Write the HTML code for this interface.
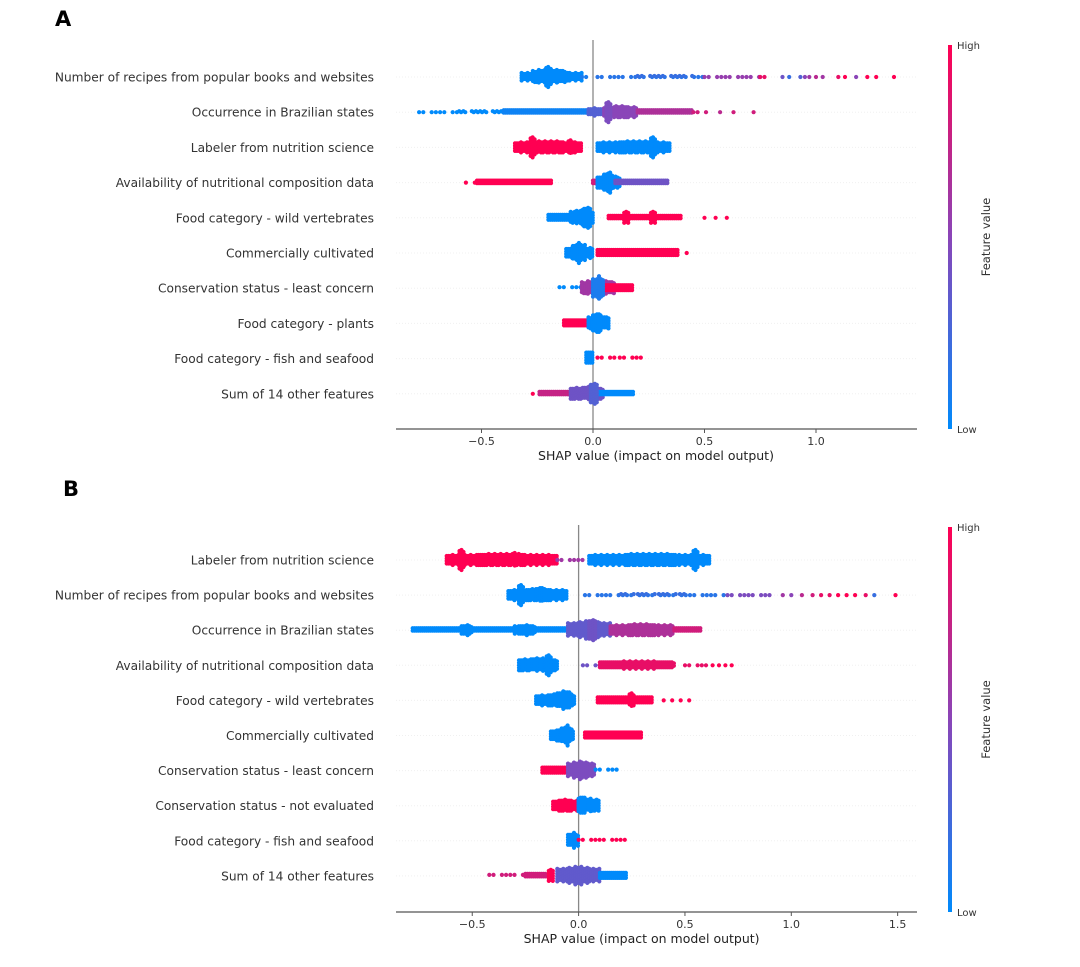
<!DOCTYPE html>
<html><head><meta charset="utf-8"><style>
body{margin:0;background:#fff;font-family:"Liberation Sans",sans-serif}
svg text{font-family:"DejaVu Sans","Liberation Sans",sans-serif}
</style></head><body>
<svg id="c" width="1080" height="962" viewBox="0 0 1080 962" xmlns="http://www.w3.org/2000/svg">
<defs>
<linearGradient id="cb" x1="0" y1="1" x2="0" y2="0">
<stop offset="0" stop-color="#008afb"/><stop offset="0.5" stop-color="#8a45b8"/><stop offset="1" stop-color="#ff0052"/>
</linearGradient>
</defs>
<text x="55" y="26" font-size="21" font-weight="bold" font-family="Liberation Sans">A</text>
<text x="63" y="496" font-size="21" font-weight="bold" font-family="Liberation Sans">B</text>
</svg>
<script>
// ---- data ----
const featuresA = ["Number of recipes from popular books and websites","Occurrence in Brazilian states","Labeler from nutrition science","Availability of nutritional composition data","Food category - wild vertebrates","Commercially cultivated","Conservation status - least concern","Food category - plants","Food category - fish and seafood","Sum of 14 other features"];
const featuresB = ["Labeler from nutrition science","Number of recipes from popular books and websites","Occurrence in Brazilian states","Availability of nutritional composition data","Food category - wild vertebrates","Commercially cultivated","Conservation status - least concern","Conservation status - not evaluated","Food category - fish and seafood","Sum of 14 other features"];
const ticksA = [-0.5,0.0,0.5,1.0];
const ticksB = [-0.5,0.0,0.5,1.0,1.5];
// segments: [shapStart, shapEnd, halfHeightPx, featureValue, sparse(1=dotted)]
const segsA = [
 [[-0.32,-0.05,5,0],[-0.27,-0.12,8,0],[-0.21,-0.19,12,0],[-0.05,0.0,0,0.1,1],[0.02,0.5,0,0.15,1],[0.2,0.45,1,0.2,1],[0.5,0.75,0,0.55,1],[0.75,0.8,0,0.9,1]],
 [[-0.78,-0.4,0,0,1],[-0.6,-0.4,1,0,1],[-0.4,-0.02,2,0.05],[-0.02,0.05,4,0.3],[0.05,0.2,6,0.5],[0.06,0.08,12,0.45],[0.2,0.45,2,0.65],[0.45,0.52,0,0.8,1]],
 [[-0.35,-0.05,6,1],[-0.28,-0.26,12,1],[-0.11,-0.09,8,1],[0.02,0.35,6,0],[0.26,0.28,12,0]],
 [[-0.52,-0.18,2,1],[0.0,0.03,2,0.8],[0.02,0.12,7,0],[0.05,0.09,11,0],[0.1,0.34,2,0.4]],
 [[-0.2,-0.1,3,0],[-0.1,0.0,8,0],[-0.04,-0.01,12,0],[0.07,0.4,2,1],[0.14,0.16,7,1],[0.26,0.28,7,1]],
 [[-0.12,0.0,6,0],[-0.09,-0.03,10,0],[0.02,0.38,3,1]],
 [[-0.15,-0.02,1,0,1],[-0.05,0.1,8,0.6],[0.05,0.18,3,1],[0.0,0.05,12,0.1]],
 [[-0.13,-0.02,3,1],[-0.02,0.07,8,0],[0.0,0.03,11,0]],
 [[-0.03,0.0,8,0],[0.02,0.1,1,1,1],[0.12,0.22,1,1,1]],
 [[-0.24,-0.05,2,0.75],[-0.1,0.05,7,0.4],[0.0,0.18,2,0],[-0.01,0.02,12,0.3]]
];
// sparse dots: [shap, featureValue]
const dotsA = [
 [[0.85,0.4],[0.88,0.2],[0.93,0.3],[0.95,0.5],[0.97,0.6],[1.0,0.7],[1.03,0.6],[1.1,0.9],[1.13,1],[1.18,0.5],[1.23,1],[1.27,1],[1.35,1]],
 [[0.57,0.7],[0.63,0.8],[0.72,0.8]],
 [],[[-0.57,1],[-0.53,1]],
 [[0.5,1],[0.55,1],[0.6,1]],
 [[0.42,1]],[],[],[],[[-0.27,1]]
];
const segsB = [
 [[-0.62,-0.1,6,1],[-0.56,-0.54,12,1],[-0.31,-0.29,8,1],[-0.1,0.05,0,0.6,1],[0.05,0.62,6,0],[0.54,0.56,12,0]],
 [[-0.33,-0.05,6,0],[-0.28,-0.26,12,0],[-0.2,-0.16,8,0],[0.03,0.7,0,0.15,1],[0.2,0.5,1,0.2,1],[0.7,0.9,0,0.45,1]],
 [[-0.78,-0.05,2,0],[-0.55,-0.5,5,0],[-0.3,-0.2,5,0],[-0.05,0.15,9,0.35],[0.05,0.08,12,0.4],[0.15,0.45,6,0.65],[0.45,0.58,2,0.8]],
 [[-0.28,-0.1,7,0],[-0.15,-0.13,12,0],[0.02,0.1,0,0.4,1],[0.1,0.45,4,0.9],[0.5,0.6,0,0.9,1]],
 [[-0.2,-0.02,6,0],[-0.1,-0.03,10,0],[0.09,0.35,3,1],[0.24,0.26,8,1]],
 [[-0.13,-0.02,6,0],[-0.08,-0.03,10,0],[0.03,0.3,3,1]],
 [[-0.17,-0.05,3,1],[-0.05,0.08,9,0.45],[0.08,0.18,1,0,1]],
 [[-0.12,0.0,6,1],[0.0,0.1,7,0],[0.0,0.03,10,0]],
 [[-0.05,0.0,8,0],[0.0,0.25,1,1,1]],
 [[-0.42,-0.15,1,0.8,1],[-0.25,-0.15,2,0.8],[-0.14,-0.12,7,1],[-0.1,0.1,9,0.35],[0.1,0.23,3,0]]
];
const dotsB = [
 [],
 [[0.96,0.6],[1.0,0.5],[1.05,0.7],[1.1,0.8],[1.14,0.9],[1.18,0.9],[1.22,1],[1.26,1],[1.3,1],[1.35,0.9],[1.39,0.2],[1.49,1]],
 [],
 [[0.63,1],[0.66,1],[0.69,1],[0.72,1]],
 [[0.4,1],[0.44,1],[0.48,1],[0.52,1]],
 [],[],[],[],[]
];
// ---- drawing ----
const svg=document.getElementById('c');
const NS='http://www.w3.org/2000/svg';
function col(v){const a=[0,138,251],m=[138,69,184],b=[255,0,82];let c;
 if(v<0.5){const t=v/0.5;c=a.map((x,i)=>Math.round(x+(m[i]-x)*t));}else{const t=(v-0.5)/0.5;c=m.map((x,i)=>Math.round(x+(b[i]-x)*t));}
 return 'rgb('+c.join(',')+')';}
function mk(tag,attrs){const e=document.createElementNS(NS,tag);for(const k in attrs)e.setAttribute(k,attrs[k]);return e;}
function panel(p){
 const sx=v=>p.zero+v*p.unit;
 const rowY=i=>p.top+i*p.step;
 const g=mk('g',{});
 
 
 svg.appendChild(g);
 p.features.forEach((f,i)=>{
  const y=rowY(i);
  const gl=mk('line',{x1:p.x0,x2:p.x1,y1:y,y2:y,stroke:'#f0f0f0','stroke-width':1,'stroke-dasharray':'1,2'});
  
  
  g.appendChild(gl);
 });
 const zl=mk('line',{x1:sx(0),x2:sx(0),y1:p.zTop,y2:p.axisY,stroke:'#888','stroke-width':1.3});
 
 
 g.appendChild(zl);
 p.features.forEach((f,i)=>{
  const y=rowY(i);
  const t=mk('text',{x:374,y:y+4.5,'text-anchor':'end','font-size':12.2,fill:'#333'});
  t.textContent=f;
  
  
  g.appendChild(t);
  const rg=mk('g',{});
  
  
  g.appendChild(rg);
  p.segs[i].forEach(s=>{
   const a=sx(s[0]),b=sx(s[1]);
   const sparse=s[4]===1;
   const stepX=sparse?4.2:2;
   let k=0;
   for(let x=a;x<=b+0.01;x+=stepX,k++){
    let h=s[2];
    if(!sparse&&h>3){const t=(x-a)/Math.max(1,b-a);const w=1-Math.abs(t-0.5)*1.2;h=Math.max(2,Math.round(h*(0.55+0.45*w)*(k%3===0?1:0.85)));}
    if(sparse&&k%5===2)continue;
    for(let dy=-h;dy<=h;dy+=2.5){
     const c=mk('circle',{cx:x.toFixed(1),cy:(y+dy).toFixed(1),r:2.1,fill:col(s[3])});
     
     
     rg.appendChild(c);
    }
   }
  });
  p.dots[i].forEach(d=>{
   const c=mk('circle',{cx:sx(d[0]).toFixed(1),cy:y,r:2.1,fill:col(d[1])});
   
   
   rg.appendChild(c);
  });
 });
 const ax=mk('line',{x1:p.x0,x2:p.x1,y1:p.axisY,y2:p.axisY,stroke:'#555','stroke-width':1.2});
 
 
 g.appendChild(ax);
 p.ticks.forEach(v=>{
  const tl=mk('line',{x1:sx(v),x2:sx(v),y1:p.axisY,y2:p.axisY+4,stroke:'#555'});
  
  
  g.appendChild(tl);
  const tt=mk('text',{x:sx(v),y:p.axisY+16,'text-anchor':'middle','font-size':11,fill:'#333'});
  tt.textContent=(v<0?'\u2212':'')+Math.abs(v).toFixed(1);
  
  
  g.appendChild(tt);
 });
 const xt=mk('text',{x:sx(0)+63,y:p.axisY+31,'text-anchor':'middle','font-size':12.5,fill:'#222'});
 xt.textContent='SHAP value (impact on model output)';
 
 
 g.appendChild(xt);
 const cb=mk('rect',{x:948,y:p.cbTop,width:4,height:p.axisY-p.cbTop,fill:'url(#cb)'});
 
 
 g.appendChild(cb);
 const hi=mk('text',{x:957,y:p.cbTop+4,'font-size':10,fill:'#333'});hi.textContent='High';
 
 
 g.appendChild(hi);
 const lo=mk('text',{x:957,y:p.axisY+4,'font-size':10,fill:'#333'});lo.textContent='Low';
 
 
 g.appendChild(lo);
 const cy=(p.cbTop+p.axisY)/2;
 const fv=mk('text',{x:990,y:cy,'font-size':11.5,fill:'#333','text-anchor':'middle',transform:'rotate(-90 990 '+cy+')'});
 fv.textContent='Feature value';
 
 
 g.appendChild(fv);
}
panel({name:'panel-a',features:featuresA,segs:segsA,dots:dotsA,ticks:ticksA,zero:593,unit:223,top:77,step:35.2,zTop:40,axisY:429,x0:396,x1:917,cbTop:45});
panel({name:'panel-b',features:featuresB,segs:segsB,dots:dotsB,ticks:ticksB,zero:578.6,unit:212.7,top:560,step:35.1,zTop:525,axisY:912,x0:396,x1:917,cbTop:527});
</script>
</body></html>
